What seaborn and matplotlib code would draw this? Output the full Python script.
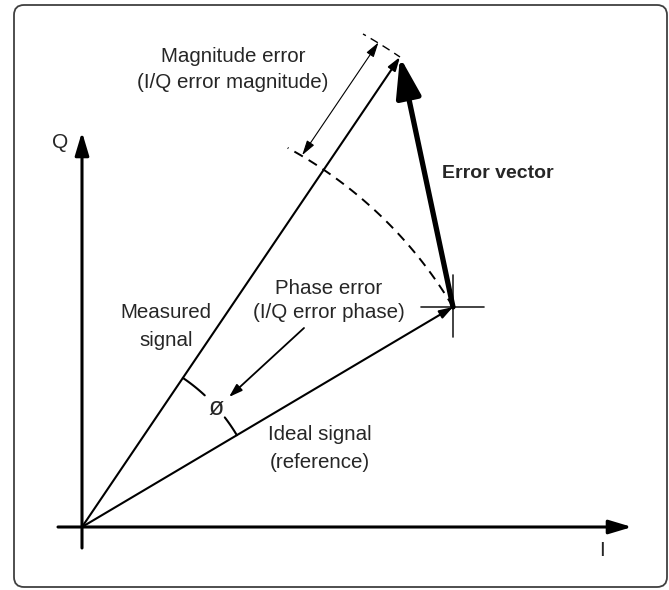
import numpy as np
import matplotlib.pyplot as plt
import seaborn as sns
from matplotlib.patches import FancyBboxPatch

# I/Q vectors, origin at (0, 0)
ideal_signal = [371, 220]
measured_signal = [318, 470]

# text labels
axis_labels = ["I", "Q"]
magnitude_text = ["Magnitude error", "(I/Q error magnitude)"]
phase_text = ["Phase error", "(I/Q error phase)"]
measured_text = ["Measured", "signal"]
ideal_text = ["Ideal signal", "(reference)"]
error_text = "Error vector"
phase_symbol = "ø"

sns.set_theme(style="white")
plt.rcParams['font.family'] = ['Liberation Sans', 'DejaVu Sans']

fig = plt.figure(figsize=(6.69, 5.90), dpi=100)
ax = fig.add_axes([0, 0, 1, 1])
ax.set_xlim(-82, 587)
ax.set_ylim(-63, 527)
ax.set_aspect('equal')
ax.axis('off')


def polar(r, deg):
    t = np.radians(deg)
    return r * np.cos(t), r * np.sin(t)


def arrow(start, end, lw, hl, hw, style="-|>", color="black"):
    ax.annotate("", xy=end, xytext=start,
                arrowprops=dict(arrowstyle=f"{style},head_length={hl},head_width={hw}",
                                lw=lw, color=color, shrinkA=0, shrinkB=0,
                                mutation_scale=1))


r_ideal = np.hypot(*ideal_signal)
a_ideal = np.degrees(np.arctan2(ideal_signal[1], ideal_signal[0]))
r_meas = np.hypot(*measured_signal)
a_meas = np.degrees(np.arctan2(measured_signal[1], measured_signal[0]))

# frame
ax.add_patch(FancyBboxPatch((-68, -60), 653, 582,
                            boxstyle="round,pad=0,rounding_size=10",
                            lw=1.3, ec="#404040", fc="none"))

# I and Q axes
arrow((-24, 0), (550, 0), 2.2, 14, 4.2)
arrow((0, -21), (0, 395), 2.2, 14, 4.2)
ax.text(520, -24, axis_labels[0], fontsize=15, ha="center", va="center")
ax.text(-22, 384, axis_labels[1], fontsize=15, ha="center", va="center")

# ideal and measured signal vectors
arrow((0, 0), ideal_signal, 1.5, 8, 2.6)
arrow((0, 0), measured_signal, 1.5, 8, 2.6)

# dashed arc at ideal magnitude
th = np.linspace(a_ideal, a_meas + 5.6, 120)
xs, ys = polar(r_ideal, th)
sns.lineplot(x=xs, y=ys, sort=False, estimator=None, color="black",
             linewidth=1.4, linestyle=(0, (5, 3.5)), ax=ax)
# dashed extension at measured magnitude
th = np.linspace(a_meas, a_meas + 4.4, 40)
xs, ys = polar(r_meas, th)
ax.plot(xs, ys, color="black", lw=1.0, linestyle=(1, (6, 4)))

# magnitude error double arrow, offset from the measured vector
u = np.array(measured_signal) / r_meas
perp = np.array([-u[1], u[0]]) * 26
arrow(tuple(u * r_ideal + perp), tuple(u * r_meas + perp), 0.8, 9, 2.6, style="<|-|>")

# error vector
arrow(ideal_signal, measured_signal, 3.8, 24, 7.5)

# cross at ideal point
cx, cy = ideal_signal
ax.plot([cx - 32, cx + 31], [cy, cy], color="#222222", lw=1.2)
ax.plot([cx, cx], [cy - 30, cy + 32], color="#222222", lw=1.2)

# phase angle marks
for a0, a1 in [(a_ideal, 37.5), (47.0, a_meas)]:
    xs, ys = polar(180, np.linspace(a0, a1, 20))
    ax.plot(xs, ys, color="black", lw=1.5)
ax.text(134, 119, phase_symbol, fontsize=18, ha="center", va="center",
        family=['Liberation Sans Narrow', 'Liberation Sans', 'DejaVu Sans'])

# phase error pointer
arrow((222, 199), (147, 130), 1.3, 8, 2.6)

# labels
ax.text(151, 470, magnitude_text[0], fontsize=14.8, ha="center", va="center")
ax.text(151, 444, magnitude_text[1], fontsize=14.8, ha="center", va="center")
ax.text(247, 239, phase_text[0], fontsize=14.8, ha="center", va="center")
ax.text(247, 214, phase_text[1], fontsize=14.8, ha="center", va="center")
ax.text(84, 214, measured_text[0], fontsize=14.8, ha="center", va="center")
ax.text(84, 187, measured_text[1], fontsize=14.8, ha="center", va="center")
ax.text(238, 92, ideal_text[0], fontsize=14.8, ha="center", va="center")
ax.text(238, 64, ideal_text[1], fontsize=14.8, ha="center", va="center")
ax.text(416, 353, error_text, fontsize=14, fontweight="bold", ha="center", va="center")

fig.savefig("out.png", dpi=100)
